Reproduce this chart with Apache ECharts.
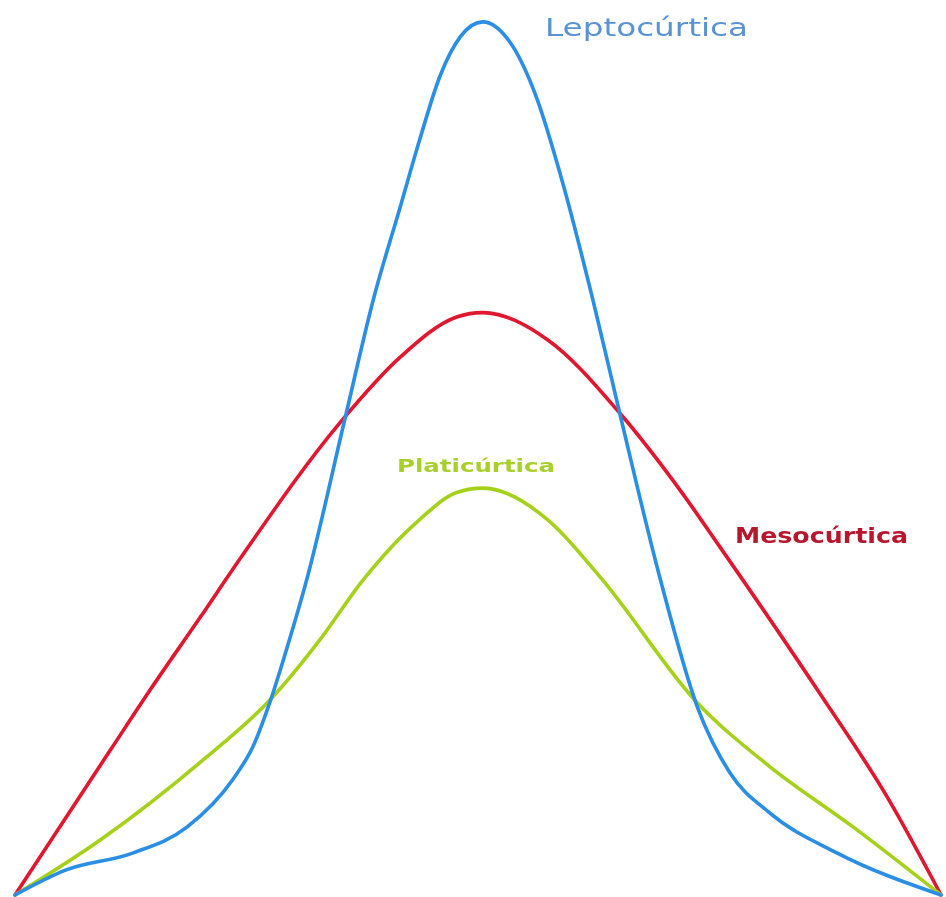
<!DOCTYPE html>
<html>
<head>
<meta charset="utf-8">
<script src="https://cdn.jsdelivr.net/npm/echarts@6/dist/echarts.min.js"></script>
<style>
  html, body { margin: 0; padding: 0; background: #ffffff; }
  #chart { width: 946px; height: 897px; }
</style>
</head>
<body>
<div id="chart"></div>
<script>
// Three kurtosis profiles on a shared horizontal scale (0–100) and height scale.
const leptoX = [0, 5.6, 12.7, 18.6, 23.5, 25.7, 27.5, 29.4, 31.5, 35.6, 38.7, 41.6, 43.7, 45.9, 48.1, 50.5, 53.5, 56.4, 58.9, 62.4, 65.3, 69.7, 73.7, 77.2, 81.5, 88.8, 100];
const leptoY = [0, 2.9, 4.8, 7.8, 13.2, 17.0, 22.0, 28.4, 36.1, 54.4, 68.2, 78.8, 86.5, 93.8, 98.3, 100, 97.6, 91.1, 82.5, 68.2, 55.2, 36.1, 21.5, 14.0, 9.4, 4.8, 0];

const mesoX = [0, 10.3, 14.6, 20.0, 24.3, 35.1, 41.6, 47.7, 50.5, 57.5, 65.3, 71.8, 76.1, 86.9, 94.2, 100];
const mesoY = [0, 16.6, 23.5, 31.8, 38.5, 54.1, 61.6, 66.2, 66.7, 63.6, 55.2, 46.4, 39.9, 23.1, 11.2, 0];

const platiX = [0, 9.2, 20.0, 27.5, 32.9, 37.6, 43.7, 47.7, 50.5, 57.5, 63.2, 73.7, 81.5, 90.5, 100];
const platiY = [0, 6.3, 15.2, 22.3, 29.2, 36.1, 43.0, 46.1, 46.6, 43.0, 36.4, 22.0, 14.7, 7.8, 0];

const names = ['Leptocúrtica', 'Mesocúrtica', 'Platicúrtica'];

const pairs = (xs, ys) => xs.map((x, i) => [x, ys[i]]);

// Stretch each caption horizontally to its wide, spaced-out look.
const measure = document.createElement('canvas').getContext('2d');
function widthScale(text, font, target) {
  measure.font = font;
  return target / measure.measureText(text).width;
}

function caption(text, x, y, font, color, targetWidth) {
  return {
    type: 'text',
    x: x,
    y: y,
    scaleX: widthScale(text, font, targetWidth),
    z: 10,
    style: {
      text: text,
      font: font,
      fill: color,
      textAlign: 'left',
      textVerticalAlign: 'middle'
    }
  };
}

// Monotone cubic (x-monotone) interpolation through projected points,
// written out as cubic Bézier segments.
function monotonePath(pts) {
  const n = pts.length;
  const sign = v => (v < 0 ? -1 : 1);
  const secant = [];
  for (let i = 0; i < n - 1; i++) {
    secant.push((pts[i + 1][1] - pts[i][1]) / (pts[i + 1][0] - pts[i][0]));
  }
  const tan = new Array(n);
  for (let i = 1; i < n - 1; i++) {
    const h0 = pts[i][0] - pts[i - 1][0];
    const h1 = pts[i + 1][0] - pts[i][0];
    const s0 = secant[i - 1];
    const s1 = secant[i];
    const p = (s0 * h1 + s1 * h0) / (h0 + h1);
    tan[i] = (sign(s0) + sign(s1)) * Math.min(Math.abs(s0), Math.abs(s1), 0.5 * Math.abs(p)) || 0;
  }
  tan[0] = (3 * secant[0] - tan[1]) / 2;
  tan[n - 1] = (3 * secant[n - 2] - tan[n - 2]) / 2;
  let d = 'M' + pts[0][0] + ' ' + pts[0][1];
  for (let i = 0; i < n - 1; i++) {
    const [x0, y0] = pts[i];
    const [x1, y1] = pts[i + 1];
    const dx = (x1 - x0) / 3;
    d += ' C' + (x0 + dx) + ' ' + (y0 + dx * tan[i]) + ' ' +
         (x1 - dx) + ' ' + (y1 - dx * tan[i + 1]) + ' ' + x1 + ' ' + y1;
  }
  return d;
}

const curveSeries = (name, data, color, z) => ({
  name: name,
  type: 'custom',
  coordinateSystem: 'cartesian2d',
  data: data,
  z: z,
  clip: false,
  encode: { x: 0, y: 1 },
  renderItem: function (params, api) {
    if (params.dataIndex !== 0) return null;
    const pts = data.map(p => api.coord(p));
    return {
      type: 'path',
      shape: { pathData: monotonePath(pts) },
      style: {
        fill: null,
        stroke: color,
        lineWidth: 3.6,
        lineCap: 'round',
        lineJoin: 'round'
      }
    };
  }
});

const fontLepto = 'normal 25px "DejaVu Sans"';
const fontMeso = 'bold 22px "DejaVu Sans"';
const fontPlati = 'bold 18px "DejaVu Sans"';

const chart = echarts.init(document.getElementById('chart'), null, { renderer: 'canvas' });

chart.setOption({
  animation: false,
  backgroundColor: '#ffffff',
  grid: { left: 15, right: 5, top: 0, bottom: 2 },
  xAxis: { type: 'value', min: 0, max: 100, show: false },
  yAxis: { type: 'value', min: 0, max: 102.5, show: false },
  series: [
    curveSeries(names[1], pairs(mesoX, mesoY), '#e0172f', 2),
    curveSeries(names[2], pairs(platiX, platiY), '#a5d11a', 3),
    curveSeries(names[0], pairs(leptoX, leptoY), '#2a8ee4', 4)
  ],
  graphic: [
    caption(names[0], 545, 29, fontLepto, '#5a92d6', 203),
    caption(names[2], 397, 467, fontPlati, '#a8d02a', 158),
    caption(names[1], 735, 537, fontMeso, '#b8162c', 173)
  ]
});
</script>
</body>
</html>
